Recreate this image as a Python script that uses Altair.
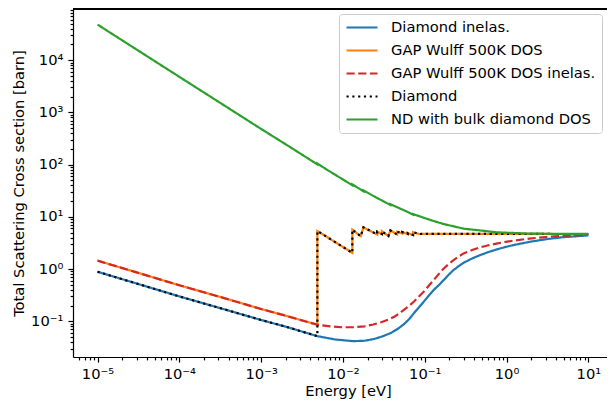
import altair as alt
import pandas as pd

# ---------------- data ----------------
SERIES = [
    "Diamond inelas.",
    "GAP Wulff 500K DOS",
    "GAP Wulff 500K DOS inelas.",
    "Diamond",
    "ND with bulk diamond DOS",
]
COLORS = ["#1f77b4", "#ff7f0e", "#d62728", "#000000", "#2ca02c"]
DASHES = [[1, 0], [1, 0], [8.2, 3.5], [2.2, 3.6], [1, 0]]

# Diamond inelastic (blue)
DIA_INEL_E = [1e-5, 3e-5, 1e-4, 3e-4, 1e-3, 2e-3, 4.87e-3, 8e-3, 0.01327, 0.0185,
              0.0243, 0.031, 0.0387, 0.047, 0.0561, 0.065, 0.074, 0.085, 0.0977,
              0.112, 0.129, 0.15, 0.171, 0.196, 0.225, 0.26, 0.298, 0.38, 0.474,
              0.6, 0.753, 0.95, 1.2, 1.9, 3.03, 4.8, 10.0]
DIA_INEL_S = [0.89, 0.53, 0.30, 0.183, 0.106, 0.079, 0.052, 0.045, 0.0417, 0.0425,
              0.0461, 0.052, 0.060, 0.072, 0.089, 0.112, 0.144, 0.185, 0.240,
              0.31, 0.40, 0.50, 0.62, 0.78, 0.96, 1.14, 1.32, 1.60, 1.85,
              2.12, 2.37, 2.63, 2.87, 3.32, 3.73, 4.07, 4.42]

# GAP Wulff 500K DOS inelastic (red dashed)
GAP_INEL_E = [1e-5, 3e-5, 1e-4, 3e-4, 1e-3, 2e-3, 4.87e-3, 0.007, 0.0096, 0.0135,
              0.0184, 0.0235, 0.0293, 0.036, 0.043, 0.049, 0.0561, 0.065, 0.074,
              0.085, 0.0977, 0.112, 0.129, 0.15, 0.171, 0.196, 0.225, 0.26, 0.298,
              0.38, 0.474, 0.6, 0.753, 1.2, 1.9, 3.0, 4.8, 10.0]
GAP_INEL_S = [1.45, 0.866, 0.49, 0.30, 0.172, 0.128, 0.086, 0.080, 0.077, 0.077,
              0.080, 0.087, 0.096, 0.108, 0.124, 0.143, 0.167, 0.20, 0.240,
              0.30, 0.371, 0.48, 0.62, 0.82, 1.03, 1.25, 1.49, 1.74, 2.0,
              2.32, 2.6, 2.86, 3.08, 3.5, 3.84, 4.1, 4.32, 4.57]

# Bragg-edge part shared by the two total cross sections
BRAGG_E = [0.00487, 0.01303, 0.01303, 0.0165, 0.0178, 0.0262, 0.0262, 0.0300,
           0.0300, 0.0360, 0.0380, 0.0460, 0.0460, 0.0530, 0.0530, 0.0620,
           0.0620, 0.0720, 0.0720, 0.085, 0.1, 1.0, 10.0]
BRAGG_S = [5.37, 2.05, 5.69, 4.26, 6.3, 4.6, 5.2, 4.7, 5.3, 4.3, 5.5, 4.6, 5.2,
           4.8, 5.1, 4.7, 4.9, 4.5, 5.1, 4.7, 4.72, 4.71, 4.70]

# ND with bulk diamond DOS (green), with its small notches at the Bragg edges
ND_E = [1e-5, 1e-4, 1e-3, 2e-3, 4.87e-3, 4.87e-3, 0.0065, 0.01303, 0.01303,
        0.0178, 0.0178, 0.025, 0.038, 0.038, 0.06, 0.072, 0.072, 0.089, 0.12,
        0.17, 0.30, 0.50, 0.75, 1.9, 4.0, 10.0]
ND_S = [4.8e4, 4800, 482, 245, 101, 105, 78.5, 40.3, 41.8, 31.0, 32.2, 23.9,
        16.9, 17.5, 12.7, 11.0, 11.3, 10.1, 8.6, 7.3, 5.94, 5.45, 5.07, 4.78,
        4.73, 4.71]

X_MAJOR = [1e-5, 1e-4, 1e-3, 1e-2, 1e-1, 1e0, 1e1]
Y_MAJOR = [1e-1, 1e0, 1e1, 1e2, 1e3, 1e4]

# ---------------- table ----------------
rows = []


def add(name, es, ss):
    for i, (e, s) in enumerate(zip(es, ss)):
        rows.append({"series": name, "E": e, "sigma": s, "idx": i})


add(SERIES[0], DIA_INEL_E, DIA_INEL_S)
add(SERIES[1], GAP_INEL_E[:7] + BRAGG_E, GAP_INEL_S[:7] + BRAGG_S)
add(SERIES[2], GAP_INEL_E, GAP_INEL_S)
add(SERIES[3], DIA_INEL_E[:7] + BRAGG_E, DIA_INEL_S[:7] + BRAGG_S)
add(SERIES[4], ND_E, ND_S)
df = pd.DataFrame(rows)


def with_minor(majors, lo, hi):
    vals = []
    for m in [majors[0] / 10] + majors:
        for k in range(1, 10):
            v = m * k
            if lo <= v <= hi:
                vals.append(v)
    return vals


W, H = 534, 348
PX_PER_DEC = 81.8
X_LO, X_HI = 10 ** -5.3, 10 ** (-5.3 + W / PX_PER_DEC)
Y_LO, Y_HI = 10 ** -1.683, 10 ** 4.98
x_vals = with_minor(X_MAJOR, X_LO, X_HI)
y_vals = with_minor(Y_MAJOR, Y_LO, Y_HI)

MAJOR = "abs(log(datum.value)/LN10 - round(log(datum.value)/LN10)) < 1e-6"
sup = "toString(round(log(datum.value)/LN10))"
for ch, s in [("-", "⁻"), ("0", "⁰"), ("1", "¹"), ("2", "²"), ("3", "³"),
              ("4", "⁴"), ("5", "⁵"), ("6", "⁶"), ("7", "⁷"), ("8", "⁸"), ("9", "⁹")]:
    sup = f"replace({sup}, '{ch}', '{s}')"
LABEL = f"({MAJOR}) ? '10' + {sup} : ''"
TICKSIZE = {"condition": {"test": MAJOR, "value": 5.1}, "value": 2.9}

FONT = "DejaVu Sans"
FS = 14.7

xaxis = alt.Axis(values=x_vals, labelExpr=LABEL, tickSize=TICKSIZE, grid=False,
                 labelPadding=4, labelFlush=False, labelOverlap=False,
                 titleBaseline="alphabetic", titleX=275, titleY=38)
yaxis = alt.Axis(values=y_vals, labelExpr=LABEL, tickSize=TICKSIZE, grid=False,
                 labelPadding=5, labelOverlap=False, labelFlush=False,
                 titleAngle=-90, titleAlign="center", titleBaseline="middle",
                 titleX=-54, titleY=H / 2)

legend = alt.Legend(title=None, orient="top-right", offset=5, symbolType="stroke",
                    symbolSize=961, symbolStrokeWidth=2.2, labelFont=FONT,
                    labelFontSize=FS, labelColor="black", padding=6,
                    strokeColor="#cccccc", fillColor="rgba(255,255,255,0.8)",
                    cornerRadius=3, rowPadding=7, clipHeight=15, labelOffset=12,
                    labelLimit=400)

cscale = alt.Scale(domain=SERIES, range=COLORS)
dscale = alt.Scale(domain=SERIES, range=DASHES)
xscale = alt.Scale(type="log", domain=[X_LO, X_HI], nice=False, zero=False)
yscale = alt.Scale(type="log", domain=[Y_LO, Y_HI], nice=False, zero=False)

layers = []
for name in SERIES:
    layers.append(
        alt.Chart(df)
        .transform_filter(alt.datum.series == name)
        .mark_line(strokeWidth=2.2, clip=True)
        .encode(
            x=alt.X("E:Q", scale=xscale, axis=xaxis, title="Energy [eV]"),
            y=alt.Y("sigma:Q", scale=yscale, axis=yaxis,
                    title="Total Scattering Cross section [barn]"),
            color=alt.Color("series:N", scale=cscale, legend=legend),
            strokeDash=alt.StrokeDash("series:N", scale=dscale, legend=legend),
            order=alt.Order("idx:Q"),
        )
    )

# top spine (the right spine lies outside the cropped reference picture)
top_spine = alt.Chart(df).mark_rule(color="black", strokeWidth=1.2).encode(
    x=alt.value(0), x2=alt.value(W), y=alt.value(0)
)

chart = (
    alt.layer(*layers, top_spine)
    .properties(width=W, height=H,
                padding={"left": 65, "top": 1, "right": 0, "bottom": 392 - 1 - H},
                autosize=alt.AutoSizeParams(type="none"))
    .configure_view(stroke=None)
    .configure_axis(domainColor="black", domainWidth=1.2, tickColor="black",
                    tickWidth=1.2, labelColor="black", labelFont=FONT,
                    labelFontSize=FS, titleFont=FONT, titleFontSize=FS,
                    titleColor="black", titleFontWeight="normal")
)

chart.save("out.html", embed_options={"renderer": "svg", "actions": False})
